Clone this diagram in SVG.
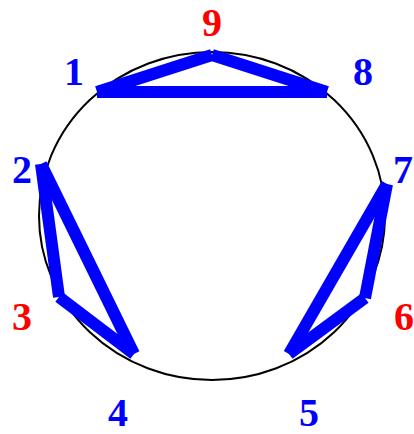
<svg xmlns="http://www.w3.org/2000/svg" width="414" height="434" viewBox="0 0 414 434">
<style>
.lbl{font-family:"Liberation Serif","Times New Roman",serif;font-weight:bold;font-size:40px;text-anchor:middle}
.b{fill:#0000ff}
.r{fill:#ff0000}
.e{stroke:#0000ff;stroke-width:12;stroke-linecap:butt;fill:none}
</style>
<rect width="414" height="434" fill="#fff"/>
<ellipse id="ring" cx="212" cy="216" rx="173" ry="164" fill="none" stroke="#000" stroke-width="2"/>
<g id="connectors">
<line class="e" x1="97" y1="92" x2="212" y2="55"/>
<line class="e" x1="212" y1="55" x2="327" y2="92"/>
<line class="e" x1="97" y1="92" x2="327" y2="92"/>
<line class="e" x1="41" y1="164" x2="59" y2="297"/>
<line class="e" x1="59" y1="297" x2="134" y2="354"/>
<line class="e" x1="41" y1="164" x2="134" y2="354"/>
<line class="e" x1="387" y1="184" x2="365" y2="298"/>
<line class="e" x1="365" y1="298" x2="289" y2="354"/>
<line class="e" x1="387" y1="184" x2="289" y2="354"/>
</g>
<g id="n1"><text class="lbl b" x="74" y="85">1</text></g>
<g id="n2"><text class="lbl b" x="22" y="183">2</text></g>
<g id="n3"><text class="lbl r" x="22" y="330">3</text></g>
<g id="n4"><text class="lbl b" x="118" y="426">4</text></g>
<g id="n5"><text class="lbl b" x="309" y="426">5</text></g>
<g id="n6"><text class="lbl r" x="404" y="330">6</text></g>
<g id="n7"><text class="lbl b" x="403" y="183">7</text></g>
<g id="n8"><text class="lbl b" x="363" y="85">8</text></g>
<g id="n9"><text class="lbl r" x="212" y="36">9</text></g>
</svg>
